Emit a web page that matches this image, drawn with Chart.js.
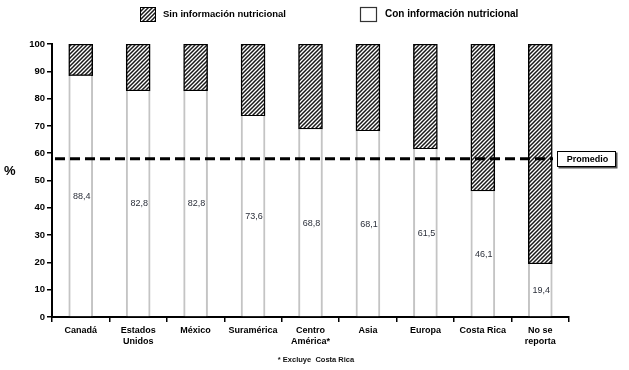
<!DOCTYPE html>
<html>
<head>
<meta charset="utf-8">
<script src="https://cdn.jsdelivr.net/npm/chart.js@4.4.1/dist/chart.umd.min.js"></script>
<style>
html,body{margin:0;padding:0;background:#fff;}
#c{display:block;}
</style>
</head>
<body>
<canvas id="c" width="629" height="370"></canvas>
<script>
const categories = [['Canadá'], ['Estados', 'Unidos'], ['México'], ['Suramérica'], ['Centro', 'América*'], ['Asia'], ['Europa'], ['Costa Rica'], ['No se', 'reporta']];
const conInfo = [88.4, 82.8, 82.8, 73.6, 68.8, 68.1, 61.5, 46.1, 19.4];
const sinInfo = [11.6, 17.2, 17.2, 26.4, 31.2, 31.9, 38.5, 53.9, 80.6];
const promedio = 58;
const yMin = 0, yMax = 100, yStep = 10;
const legendLabels = ['Sin información nutricional', 'Con información nutricional'];
const promedioLabel = 'Promedio';
const yTitle = '%';
const footnote = '* Excluye  Costa Rica';

const FONT = '"Liberation Sans", Arial, sans-serif';

const ctx0 = document.getElementById('c').getContext('2d');
const hatch = ctx0.createPattern((function(){
  const s = 4;
  const p = document.createElement('canvas');
  p.width = s; p.height = s;
  const g = p.getContext('2d');
  g.fillStyle = '#ffffff';
  g.fillRect(0, 0, s, s);
  g.strokeStyle = '#1a1a1a';
  g.lineWidth = 1.5;
  g.beginPath();
  g.moveTo(-1, s + 1); g.lineTo(s + 1, -1);
  g.moveTo(-1, 1); g.lineTo(1, -1);
  g.moveTo(s - 1, s + 1); g.lineTo(s + 1, s - 1);
  g.stroke();
  return p;
})(), 'repeat');

const overlay = {
  id: 'overlay',
  afterDatasetsDraw(chart) {
    const ctx = chart.ctx;
    const xs = chart.scales.x, ys = chart.scales.y;
    // value labels in middle of white bars
    ctx.save();
    ctx.font = '9px ' + FONT;
    ctx.fillStyle = '#2b2f3a';
    ctx.textAlign = 'center';
    ctx.textBaseline = 'middle';
    conInfo.forEach((v, i) => {
      const x = xs.getPixelForValue(i);
      const y = ys.getPixelForValue(v / 2);
      ctx.fillText(v.toFixed(1).replace('.', ','), x + 1, y);
    });
    ctx.restore();
    // average dashed line
    const ya = ys.getPixelForValue(promedio);
    ctx.save();
    ctx.strokeStyle = '#000';
    ctx.lineWidth = 3;
    ctx.setLineDash([10, 5]);
    ctx.beginPath();
    ctx.moveTo(chart.chartArea.left + 3, ya);
    ctx.lineTo(553, ya);
    ctx.stroke();
    ctx.setLineDash([]);
    // Promedio box
    const bx = 557, bw = 59, bh = 16, by = Math.round(ya - bh / 2);
    ctx.fillStyle = '#555';
    ctx.fillRect(bx + 1.5, by + 1.5, bw, bh);
    ctx.fillStyle = '#fff';
    ctx.fillRect(bx, by, bw, bh);
    ctx.lineWidth = 1;
    ctx.strokeStyle = '#000';
    ctx.strokeRect(bx + 0.5, by + 0.5, bw - 1, bh - 1);
    ctx.fillStyle = '#000';
    ctx.font = 'bold 9px ' + FONT;
    ctx.textAlign = 'center';
    ctx.textBaseline = 'middle';
    ctx.fillText(promedioLabel, bx + bw / 2 + 1, by + bh / 2 + 0.5);
    ctx.restore();
  },
  afterDraw(chart) {
    const ctx = chart.ctx;
    ctx.save();
    // legend
    ctx.textBaseline = 'middle';
    ctx.textAlign = 'left';
    ctx.fillStyle = hatch;
    ctx.fillRect(140, 7, 16, 15);
    ctx.strokeStyle = '#000';
    ctx.lineWidth = 1;
    ctx.strokeRect(140.5, 7.5, 15, 14);
    ctx.fillStyle = '#000';
    ctx.font = 'bold 9.5px ' + FONT;
    ctx.fillText(legendLabels[0], 163, 14.5);
    ctx.fillStyle = '#fff';
    ctx.fillRect(360, 7, 17, 15);
    ctx.strokeStyle = '#333';
    ctx.lineWidth = 1.2;
    ctx.strokeRect(360.5, 7.5, 16, 14);
    ctx.fillStyle = '#000';
    ctx.font = 'bold 10px ' + FONT;
    ctx.fillText(legendLabels[1], 385, 14.5);
    // y title
    ctx.font = 'bold 13px ' + FONT;
    ctx.fillText(yTitle, 4, 171);
    // footnote
    ctx.font = 'bold 7.5px ' + FONT;
    ctx.textAlign = 'center';
    ctx.fillStyle = '#111';
    ctx.fillText(footnote, 316, 360);
    ctx.restore();
  }
};

new Chart(document.getElementById('c'), {
  type: 'bar',
  data: {
    labels: categories,
    datasets: [
      {
        label: legendLabels[1],
        data: conInfo,
        backgroundColor: '#ffffff',
        borderColor: '#c4c4c4',
        borderWidth: { left: 2, right: 2, top: 0, bottom: 0 },
        borderSkipped: false,
        barThickness: 24
      },
      {
        label: legendLabels[0],
        data: sinInfo,
        backgroundColor: hatch,
        borderColor: '#000',
        borderWidth: 1.5,
        borderSkipped: false,
        barThickness: 24
      }
    ]
  },
  options: {
    responsive: false,
    animation: false,
    devicePixelRatio: 1,
    layout: { padding: { left: 0, right: 60, top: 44, bottom: 0 } },
    plugins: { legend: { display: false }, tooltip: { enabled: false } },
    scales: {
      x: {
        stacked: true,
        grid: { display: true, drawOnChartArea: false, drawTicks: true, tickLength: 5, color: '#000', lineWidth: 1.5, offset: true },
        border: { display: true, color: '#000', width: 2 },
        ticks: { color: '#000', font: { family: FONT, size: 9, weight: 'bold' }, padding: 3, maxRotation: 0, autoSkip: false },
        afterFit(s) { s.height = 53; }
      },
      y: {
        stacked: true,
        min: yMin, max: yMax,
        grid: { display: true, drawOnChartArea: false, drawTicks: true, tickLength: 5, color: '#000', lineWidth: 1.5 },
        border: { display: true, color: '#000', width: 2 },
        ticks: { stepSize: yStep, color: '#000', font: { family: FONT, size: 9.5, weight: 'bold' }, padding: 2 },
        afterFit(s) { s.width = 52; }
      }
    }
  },
  plugins: [overlay]
});
</script>
</body>
</html>
